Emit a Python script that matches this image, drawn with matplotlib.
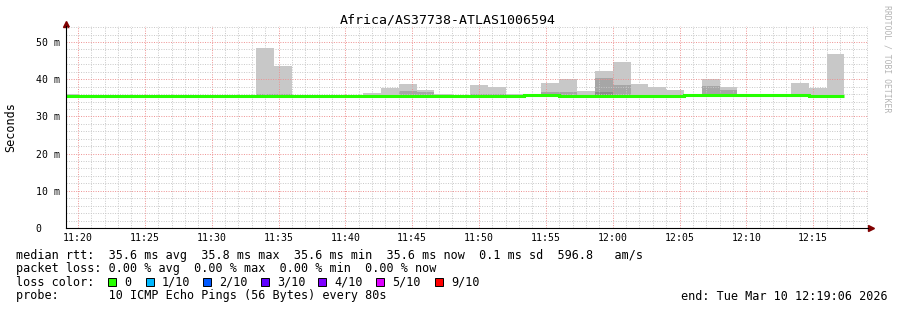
import pandas as pd
import matplotlib
matplotlib.use("Agg")
import matplotlib.pyplot as plt
import matplotlib.dates as mdates
from matplotlib.patches import Rectangle

W, H = 897, 310
MONO = "DejaVu Sans Mono"

title = "Africa/AS37738-ATLAS1006594"
step_start = "2026-03-10 11:18:40"   # first 80 s step
view_start = "2026-03-10 11:19:06"
view_end = "2026-03-10 12:19:06"

# one value per 80 s step (ms)
median_ms = [35.6, 35.6, 35.6, 35.6, 35.6, 35.6, 35.6, 35.6, 35.6, 35.6,
             35.6, 35.6, 35.6, 35.6, 35.6, 35.6, 35.6, 35.6, 35.6, 35.6,
             35.6, 35.6, 35.6, 35.6, 35.6, 35.6, 35.8, 35.8, 35.6, 35.6,
             35.6, 35.6, 35.6, 35.6, 35.6, 35.7, 35.7, 35.7, 35.7, 35.7,
             35.7, 35.7, 35.6, 35.6]
smoke_max = [35.9, 35.6, 35.6, 35.6, 35.6, 35.6, 35.6, 35.6, 35.6, 35.6,
             35.6, 48.4, 43.6, 35.6, 35.6, 35.6, 35.6, 36.3, 37.7, 38.7,
             37.1, 36.0, 35.6, 38.4, 37.9, 35.9, 35.8, 39.0, 40.1, 36.8,
             42.2, 44.7, 38.7, 37.9, 37.1, 35.7, 40.0, 37.9, 35.7, 35.7,
             35.7, 39.0, 37.6, 46.8]
smoke_mid = [35.6, 35.6, 35.6, 35.6, 35.6, 35.6, 35.6, 35.6, 35.6, 35.6,
             35.6, 36.1, 36.1, 35.6, 35.6, 35.6, 35.6, 35.6, 35.6, 36.7,
             36.6, 35.6, 35.6, 36.1, 36.1, 35.6, 35.8, 36.6, 36.6, 35.6,
             40.3, 38.4, 35.6, 35.6, 35.6, 35.7, 38.2, 37.1, 35.7, 35.7,
             35.7, 35.7, 35.6, 35.6]
smoke_low = [35.6, 35.6, 35.6, 35.6, 35.6, 35.6, 35.6, 35.6, 35.6, 35.6,
             35.6, 35.6, 35.6, 35.6, 35.6, 35.6, 35.6, 35.6, 35.6, 35.6,
             35.6, 35.6, 35.6, 35.6, 35.6, 35.6, 35.8, 35.8, 35.6, 35.6,
             36.6, 35.6, 35.6, 35.6, 35.6, 35.7, 35.7, 35.7, 35.7, 35.7,
             35.7, 35.7, 35.6, 35.6]

y_ticks = [0, 10, 20, 30, 40, 50]
y_tick_labels = ["0   ", "10 m", "20 m", "30 m", "40 m", "50 m"]

rtt_line = "median rtt:  35.6 ms avg  35.8 ms max  35.6 ms min  35.6 ms now  0.1 ms sd  596.8   am/s"
loss_line = "packet loss: 0.00 % avg  0.00 % max  0.00 % min  0.00 % now"
probe_line = "probe:       10 ICMP Echo Pings (56 Bytes) every 80s"
end_line = "end: Tue Mar 10 12:19:06 2026"
loss_labels = ["0", "1/10", "2/10", "3/10", "4/10", "5/10", "9/10"]
loss_colors = ["#26ff00", "#00b8ff", "#0059ff", "#5e00ff", "#7e00ff", "#dd00ff", "#ff0000"]


def fx(x):
    return x / W


def fy(y):
    return (H - y) / H


edges = mdates.date2num(pd.date_range(step_start, periods=len(median_ms) + 1, freq="80s"))

fig = plt.figure(figsize=(W / 100, H / 100), dpi=100)
ax = fig.add_axes([fx(66), fy(228), (868 - 66) / W, (228 - 26) / H])

ax.stairs(smoke_max, edges, baseline=median_ms, fill=True, color="#c8c8c8", zorder=1)
ax.stairs(smoke_mid, edges, baseline=median_ms, fill=True, color="#a6a6a6", zorder=1.1)
ax.stairs(smoke_low, edges, baseline=median_ms, fill=True, color="#8c8c8c", zorder=1.2)
ax.stairs(median_ms, edges, baseline=None, color=loss_colors[0], lw=2.2, zorder=3)

ax.set_xlim(pd.Timestamp(view_start), pd.Timestamp(view_end))
ax.set_ylim(0, 54.3)
ax.xaxis.set_major_locator(mdates.MinuteLocator(byminute=range(0, 60, 5)))
ax.xaxis.set_minor_locator(mdates.MinuteLocator())
ax.xaxis.set_major_formatter(mdates.DateFormatter("%H:%M"))
ax.set_yticks(y_ticks)
ax.set_yticklabels(y_tick_labels)
ax.set_yticks(range(0, 55, 2), minor=True)

ax.set_axisbelow(False)
ax.grid(which="minor", color="#c8c8c8", ls=(0, (1, 1.5)), lw=0.7)
ax.grid(which="major", color="#ee9090", ls=(0, (1, 1.5)), lw=0.7)
ax.tick_params(which="both", length=0)
ax.tick_params(axis="y", pad=4.3, labelsize=7.1)
ax.tick_params(axis="x", pad=3.6, labelsize=7.1)
for lab in ax.get_xticklabels() + ax.get_yticklabels():
    lab.set_family(MONO)

for side in ["top", "right"]:
    ax.spines[side].set_visible(False)
for side in ["left", "bottom"]:
    ax.spines[side].set_linewidth(0.8)
    ax.spines[side].set_zorder(4)

ax.plot([0], [1 + 2 / 202], marker="^", ms=4.5, color="#800000", transform=ax.transAxes, clip_on=False)
ax.plot([1 + 3 / 802], [0], marker=">", ms=4.5, color="#800000", transform=ax.transAxes, clip_on=False)

fig.text(fx(448), fy(20), title, ha="center", va="center", fontsize=9.5, family=MONO)
fig.text(fx(11), fy(127), "Seconds", rotation=90, ha="center", va="center", fontsize=8.5, family=MONO)
fig.text(fx(887), fy(59), "RRDTOOL / TOBI OETIKER", rotation=-90, ha="center", va="center",
         fontsize=5.9, color="#b4b4b4", family=MONO)

fig.text(fx(16), fy(255), rtt_line, va="center", fontsize=8.5, family=MONO)
fig.text(fx(16), fy(268.5), loss_line, va="center", fontsize=8.5, family=MONO)
fig.text(fx(16), fy(282), "loss color:", va="center", fontsize=8.5, family=MONO)
fig.text(fx(16), fy(296), probe_line, va="center", fontsize=8.5, family=MONO)
fig.text(fx(888), fy(296), end_line, ha="right", va="center", fontsize=8.5, family=MONO)

box_x = [108, 146, 203, 261, 318, 376, 435]
for bx, lab, col in zip(box_x, loss_labels, loss_colors):
    fig.add_artist(Rectangle((fx(bx), fy(286)), 8 / W, 8 / H, transform=fig.transFigure,
                             facecolor=col, edgecolor="black", lw=0.7))
    fig.text(fx(bx + 16), fy(282), lab, va="center", fontsize=8.5, family=MONO)

fig.savefig("out.png", dpi=100)
